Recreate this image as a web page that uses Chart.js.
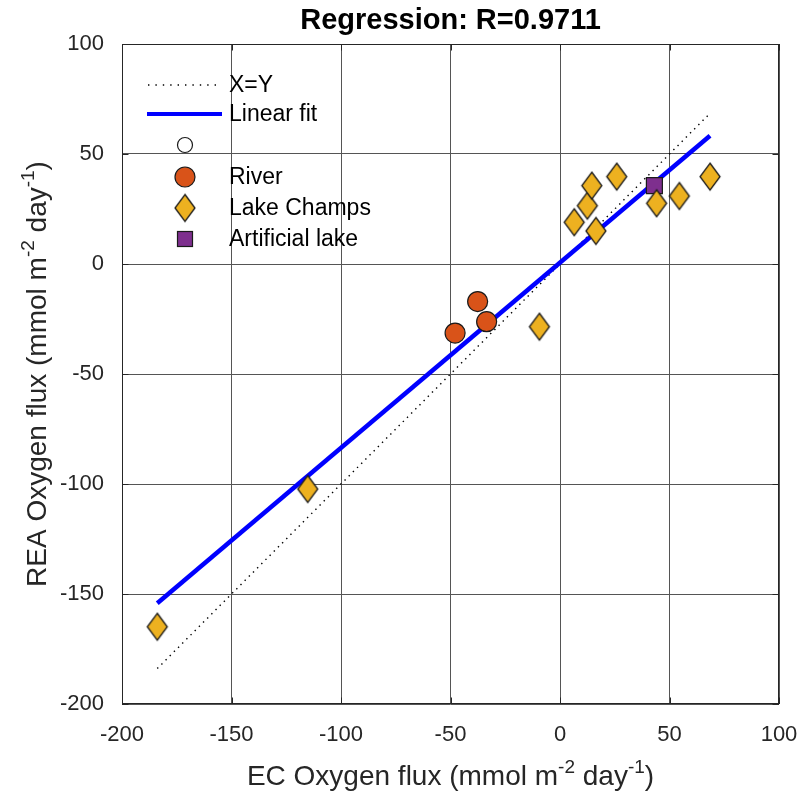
<!DOCTYPE html>
<html><head><meta charset="utf-8">
<script src="https://cdn.jsdelivr.net/npm/chart.js@4/dist/chart.umd.min.js"></script>
<style>html,body{margin:0;padding:0;background:#fff}canvas{display:block}</style>
</head><body>
<canvas id="c" width="802" height="791"></canvas>
<script>
const titleText = 'Regression: R=0.9711';
const xTicks = [-200, -150, -100, -50, 0, 50, 100];
const yTicks = [-200, -150, -100, -50, 0, 50, 100];

const riverX = [-47.9, -37.6, -33.5];
const riverY = [-31.4, -17.1, -26.2];
const lakeX = [-183.9, -115.2, -9.4, 6.5, 12.5, 14.5, 16.4, 25.9, 44.1, 54.5, 68.5];
const lakeY = [-164.9, -102.3, -28.5, 19.0, 26.5, 35.6, 15.0, 39.7, 27.6, 30.9, 39.7];
const artX = [43.1];
const artY = [35.6];
const identX = [-183.9, 68.5];
const identY = [-183.9, 68.5];
const fitX = [-183.9, 68.5];
const fitY = [-154.2, 58.3];

const legendLabels = ['X=Y', 'Linear fit', '', 'River', 'Lake Champs', 'Artificial lake'];
const xLabelParts = [{t:'EC Oxygen flux (mmol m'},{t:'-2',sup:true},{t:' day'},{t:'-1',sup:true},{t:')'}];
const yLabelParts = [{t:'REA Oxygen flux (mmol m'},{t:'-2',sup:true},{t:' day'},{t:'-1',sup:true},{t:')'}];

const FONT = "'Liberation Sans', Arial, Helvetica, sans-serif";
const C_RIVER = '#D95319', C_LAKE = '#EDB120', C_ART = '#7E2F8E';
const EDGE = '#1a1a1a', AXC = '#262626';

function pts(xs, ys) { return xs.map((x, i) => ({x: x, y: ys[i]})); }

function diamondCanvas(w, h, fill, stroke) {
  const c = document.createElement('canvas');
  c.width = w + 4; c.height = h + 4;
  const g = c.getContext('2d');
  g.beginPath();
  g.moveTo(c.width / 2, 2); g.lineTo(c.width - 2, c.height / 2);
  g.lineTo(c.width / 2, c.height - 2); g.lineTo(2, c.height / 2);
  g.closePath();
  g.fillStyle = fill; g.fill();
  g.lineWidth = 1.3; g.strokeStyle = stroke; g.stroke();
  return c;
}
const diamond = diamondCanvas(20, 27, C_LAKE, EDGE);

function richText(ctx, parts, x, y, size, color) {
  const sub = Math.round(size * 0.68);
  let total = 0;
  const ws = parts.map(p => { ctx.font = (p.sup ? sub : size) + 'px ' + FONT; const w = ctx.measureText(p.t).width; total += w; return w; });
  let cx = x - total / 2;
  ctx.fillStyle = color; ctx.textAlign = 'left'; ctx.textBaseline = 'alphabetic';
  parts.forEach((p, i) => {
    ctx.font = (p.sup ? sub : size) + 'px ' + FONT;
    ctx.fillText(p.t, cx, p.sup ? y - size * 0.42 : y);
    cx += ws[i];
  });
}

const decor = {
  id: 'decor',
  afterDraw(chart) {
    const ctx = chart.ctx, a = chart.chartArea;
    const xs = chart.scales.x, ys = chart.scales.y;
    ctx.save();
    // box
    ctx.strokeStyle = AXC; ctx.lineWidth = 1;
    ctx.strokeRect(Math.round(a.left) + 0.5, Math.round(a.top) + 0.5, Math.round(a.right - a.left) - 1, Math.round(a.bottom - a.top) - 1);
    // inward ticks
    const tl = 6.5;
    ctx.beginPath();
    xTicks.forEach(v => { const p = Math.round(xs.getPixelForValue(v)) + 0.5; ctx.moveTo(p, a.bottom); ctx.lineTo(p, a.bottom - tl); ctx.moveTo(p, a.top); ctx.lineTo(p, a.top + tl); });
    yTicks.forEach(v => { const p = Math.round(ys.getPixelForValue(v)) + 0.5; ctx.moveTo(a.left, p); ctx.lineTo(a.left + tl, p); ctx.moveTo(a.right, p); ctx.lineTo(a.right - tl, p); });
    ctx.stroke();

    // legend
    const lx = 185, tx = 229, rows = [85, 114, 145, 177, 208, 239];
    ctx.font = '23px ' + FONT; ctx.fillStyle = '#000'; ctx.textAlign = 'left'; ctx.textBaseline = 'middle';
    // X=Y
    ctx.save(); ctx.strokeStyle = '#000'; ctx.lineWidth = 1.4; ctx.setLineDash([1.4, 6]);
    ctx.beginPath(); ctx.moveTo(148, rows[0]); ctx.lineTo(218, rows[0]); ctx.stroke(); ctx.restore();
    // fit
    ctx.save(); ctx.strokeStyle = '#0000ff'; ctx.lineWidth = 4;
    ctx.beginPath(); ctx.moveTo(147, rows[1]); ctx.lineTo(222, rows[1]); ctx.stroke(); ctx.restore();
    // empty circle
    ctx.beginPath(); ctx.arc(lx, rows[2], 7.5, 0, Math.PI * 2); ctx.fillStyle = '#fff'; ctx.fill(); ctx.strokeStyle = EDGE; ctx.lineWidth = 1.2; ctx.stroke();
    // river
    ctx.beginPath(); ctx.arc(lx, rows[3], 10, 0, Math.PI * 2); ctx.fillStyle = C_RIVER; ctx.fill(); ctx.stroke();
    // lake
    ctx.drawImage(diamond, lx - diamond.width / 2, rows[4] - diamond.height / 2);
    // art
    ctx.fillStyle = C_ART; ctx.fillRect(lx - 8, rows[5] - 8, 16, 16); ctx.strokeRect(lx - 7.5, rows[5] - 7.5, 15, 15);
    ctx.fillStyle = '#000';
    legendLabels.forEach((t, i) => { if (t) ctx.fillText(t, tx, rows[i] + 1); });

    // title
    ctx.font = 'bold 29px ' + FONT; ctx.textAlign = 'center'; ctx.textBaseline = 'alphabetic'; ctx.fillStyle = '#000';
    ctx.fillText(titleText, (a.left + a.right) / 2, 29);
    // x label
    richText(ctx, xLabelParts, (a.left + a.right) / 2, 785, 28, AXC);
    // y label
    ctx.translate(46, (a.top + a.bottom) / 2); ctx.rotate(-Math.PI / 2);
    richText(ctx, yLabelParts, 0, 0, 28, AXC);
    ctx.restore();
  }
};

new Chart(document.getElementById('c'), {
  type: 'scatter',
  data: {
    datasets: [
      { label: 'River', data: pts(riverX, riverY), pointStyle: 'circle', pointRadius: 10, pointHoverRadius: 10, backgroundColor: C_RIVER, borderColor: EDGE, borderWidth: 1.2, order: 1 },
      { label: 'Lake Champs', data: pts(lakeX, lakeY), pointStyle: diamond, pointRadius: 12, backgroundColor: C_LAKE, borderColor: EDGE, order: 1 },
      { label: 'Artificial lake', data: pts(artX, artY), pointStyle: 'rect', pointRadius: 11.3, pointHoverRadius: 11.3, backgroundColor: C_ART, borderColor: EDGE, borderWidth: 1.2, order: 1 },
      { type: 'line', label: 'Linear fit', data: pts(fitX, fitY), borderColor: '#0000ff', borderWidth: 4.5, pointRadius: 0, fill: false, order: 5 },
      { type: 'line', label: 'X=Y', data: pts(identX, identY), borderColor: '#000', borderWidth: 1.4, borderDash: [1.4, 4.5], pointRadius: 0, fill: false, order: 6 }
    ]
  },
  options: {
    responsive: false, animation: false, devicePixelRatio: 1,
    layout: { padding: { top: 44, right: 23, left: 0, bottom: 0 } },
    plugins: { legend: { display: false }, title: { display: false }, tooltip: { enabled: false } },
    scales: {
      x: {
        type: 'linear', min: -200, max: 100,
        afterFit(s) { s.height = 87; s.paddingLeft = 0; s.paddingRight = 0; },
        afterBuildTicks(s) { s.ticks = xTicks.map(v => ({value: v})); },
        ticks: { color: AXC, font: { family: FONT, size: 22 }, padding: 18, maxRotation: 0, callback: v => String(v) },
        grid: { color: '#555', lineWidth: 1, drawTicks: false },
        border: { display: false }
      },
      y: {
        type: 'linear', min: -200, max: 100,
        afterFit(s) { s.width = 122; s.paddingTop = 0; s.paddingBottom = 0; },
        afterBuildTicks(s) { s.ticks = yTicks.map(v => ({value: v})); },
        ticks: { color: AXC, font: { family: FONT, size: 22 }, padding: 18, callback: v => String(v) },
        grid: { color: '#555', lineWidth: 1, drawTicks: false },
        border: { display: false }
      }
    }
  },
  plugins: [decor]
});
</script>
</body></html>
